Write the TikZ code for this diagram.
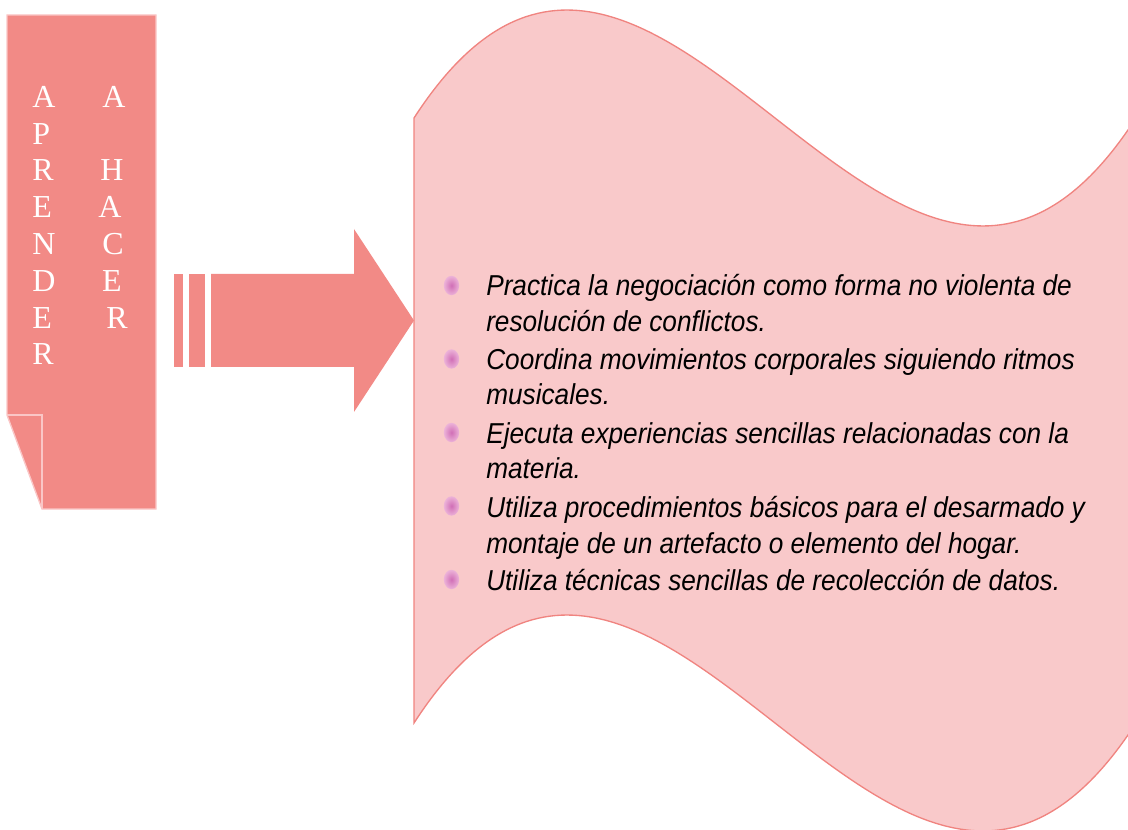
\documentclass[tikz,border=0pt]{standalone}
\usepackage{fontspec}
\setmainfont{Liberation Serif}
\newfontfamily\itemfont[FakeStretch=0.91]{Liberation Sans}
\usetikzlibrary{shapes.geometric}
\definecolor{salmon}{RGB}{242,138,134}
\definecolor{boxedge}{RGB}{250,198,198}
\definecolor{wavefill}{RGB}{249,201,202}
\definecolor{waveedge}{RGB}{240,132,128}
\definecolor{bulletdark}{RGB}{208,110,182}
\definecolor{bulletlight}{RGB}{236,178,216}
\begin{document}
\begin{tikzpicture}[x=0.75pt,y=-0.75pt,
  letter/.style={text=white,font=\fontsize{24}{24}\selectfont,inner sep=0pt},
  itemtext/.style={font=\itemfont\itshape\fontsize{21.6}{26.6}\selectfont,inner sep=0pt,anchor=base west,text=black},
  bulletdot/.style={ellipse,inner sep=0pt,minimum width=11.5pt,minimum height=14.5pt,inner color=bulletdark,outer color=bulletlight,draw=none},
  shapefill/.style={fill=salmon}]
\useasboundingbox (0,0) rectangle (1128,830);
\clip (0,0) rectangle (1128,830);

% wave shape
\draw[fill=wavefill,draw=waveedge,line width=1pt]
  (414,118) .. controls (656,-256) and (894,492) .. (1136,118)
  -- (1136,723) .. controls (894,1097) and (656,349) .. (414,723) -- cycle;

% left folded box
\draw[shapefill,draw=boxedge,line width=1pt] (7,15) -- (156,15) -- (156,509) -- (42,509) -- (7,415) -- cycle;
\draw[boxedge,line width=1pt] (7,415) -- (42,415) -- (42,509);

% arrow
\fill[shapefill] (211,274) -- (354,274) -- (354,229) -- (414,320.5) -- (354,412) -- (354,367) -- (211,367) -- cycle;
\fill[shapefill] (174,274) rectangle (183,367);
\fill[shapefill] (189,274) rectangle (205,367);

% column 1: APRENDER
\node[letter,anchor=base west] (c1) at (32,107.3) {A};
\node[letter,anchor=base west] (c2) at (32,144.1) {P};
\node[letter,anchor=base west] (c3) at (32,180.9) {R};
\node[letter,anchor=base west] (c4) at (32,217.7) {E};
\node[letter,anchor=base west] (c5) at (32,254.5) {N};
\node[letter,anchor=base west] (c6) at (32,291.3) {D};
\node[letter,anchor=base west] (c7) at (32,328.1) {E};
\node[letter,anchor=base west] (c8) at (32,364.9) {R};
% column 2: A HACER
\node[letter,anchor=base] (d1) at (114,107.3) {A};
\node[letter,anchor=base] (d2) at (112,180.9) {H};
\node[letter,anchor=base] (d3) at (110,217.7) {A};
\node[letter,anchor=base] (d4) at (113,254.5) {C};
\node[letter,anchor=base] (d5) at (112,291.3) {E};
\node[letter,anchor=base] (d6) at (117,328.1) {R};

% bullets
\node[bulletdot] (b1) at (451.5,285.5) {};
\node[bulletdot] (b2) at (451.5,359) {};
\node[bulletdot] (b3) at (451.5,432.5) {};
\node[bulletdot] (b4) at (451.5,506) {};
\node[bulletdot] (b5) at (451.5,579.5) {};

% items
\node[itemtext] (l1) at (486,296) {Practica la negociación como forma no violenta de};
\node[itemtext] (l2) at (486,332) {resolución de conflictos.};
\node[itemtext] (l3) at (486,370) {Coordina movimientos corporales siguiendo ritmos};
\node[itemtext] (l4) at (486,405) {musicales.};
\node[itemtext] (l5) at (486,443) {Ejecuta experiencias sencillas relacionadas con la};
\node[itemtext] (l6) at (486,478) {materia.};
\node[itemtext] (l7) at (486,517) {Utiliza procedimientos básicos para el desarmado y};
\node[itemtext] (l8) at (486,553) {montaje de un artefacto o elemento del hogar.};
\node[itemtext] (l9) at (486,590) {Utiliza técnicas sencillas de recolección de datos.};
\end{tikzpicture}
\end{document}
